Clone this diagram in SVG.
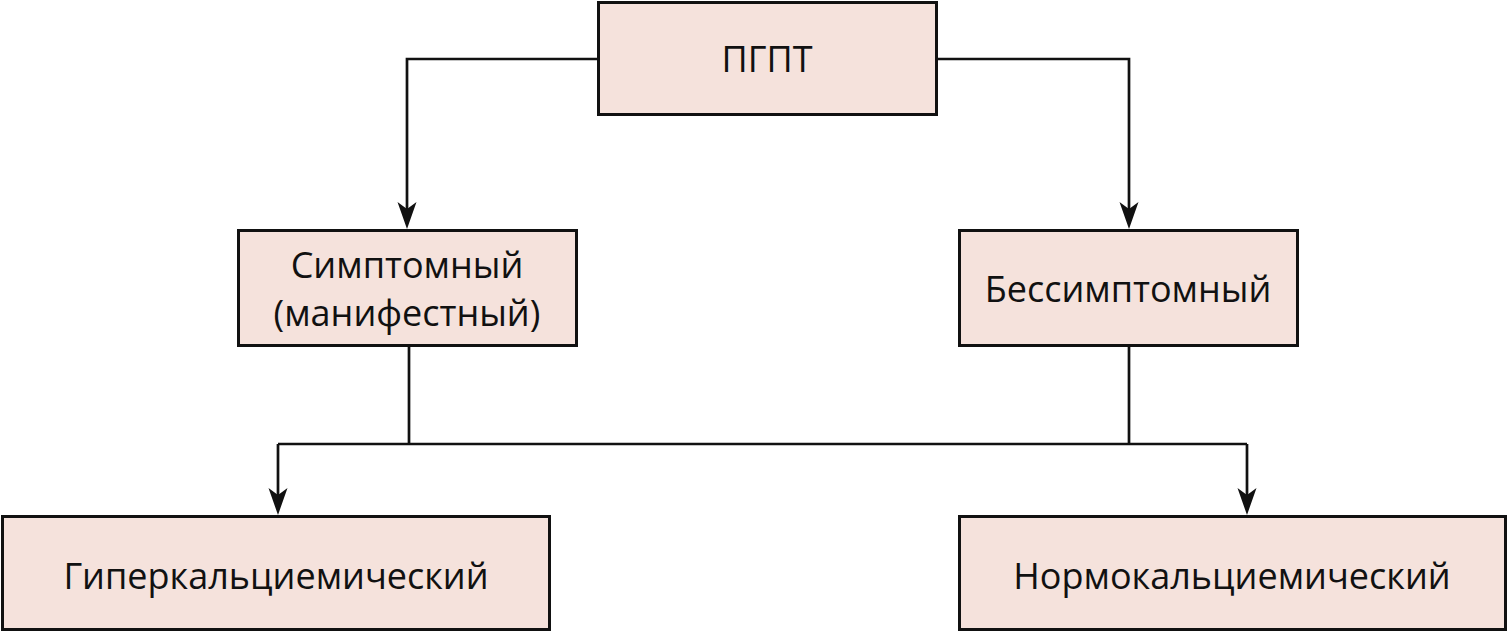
<svg xmlns="http://www.w3.org/2000/svg" width="1509" height="633" viewBox="0 0 1509 633">
<defs>
<style>
.box{fill:#f5e2dc;stroke:#111;stroke-width:3}
.lbl{font-family:"Open Sans","Noto Sans",sans-serif;font-size:36px;fill:#111;text-anchor:middle}
.ln{fill:none;stroke:#111;stroke-width:2.7}
.ah{fill:#111}
</style>
<path id="arrow" d="M-9.5,-27 L0,-20 L9.5,-27 L0,0 Z"/>
</defs>
<rect width="1509" height="633" fill="#fff"/>
<g id="connectors">
<path class="ln" d="M598,59 H407 V210"/>
<path class="ln" d="M937,59 H1129 V210"/>
<path class="ln" d="M409,345 V444"/>
<path class="ln" d="M1129,345 V444"/>
<path class="ln" d="M278,444 H1247"/>
<path class="ln" d="M278,444 V496"/>
<path class="ln" d="M1247,444 V496"/>
<use href="#arrow" class="ah" x="407" y="229"/>
<use href="#arrow" class="ah" x="1129" y="229"/>
<use href="#arrow" class="ah" x="278" y="515"/>
<use href="#arrow" class="ah" x="1247" y="515"/>
</g>
<g id="node-pgpt">
<rect class="box" x="598.5" y="2.5" width="338" height="112"/>
<text class="lbl" x="767" y="72">ПГПТ</text>
</g>
<g id="node-symptomatic">
<rect class="box" x="238.5" y="230.5" width="338" height="115"/>
<text class="lbl" x="407" y="278">Симптомный</text>
<text class="lbl" x="407" y="326">(манифестный)</text>
</g>
<g id="node-asymptomatic">
<rect class="box" x="959.5" y="230.5" width="338" height="115"/>
<text class="lbl" x="1128" y="302">Бессимптомный</text>
</g>
<g id="node-hyper">
<rect class="box" x="2.5" y="516.5" width="547" height="113"/>
<text class="lbl" x="276" y="589">Гиперкальциемический</text>
</g>
<g id="node-normo">
<rect class="box" x="959.5" y="516.5" width="546" height="113"/>
<text class="lbl" x="1232" y="589">Нормокальциемический</text>
</g>
</svg>
